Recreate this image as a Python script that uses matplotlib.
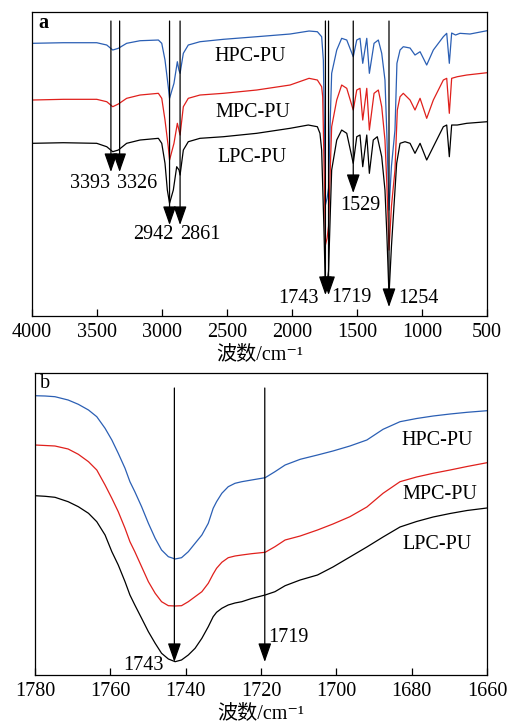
import numpy as np
import matplotlib
matplotlib.use("Agg")
import matplotlib.pyplot as plt

plt.rcParams['font.family'] = ['Liberation Serif', 'Noto Sans CJK SC', 'DejaVu Serif']
plt.rcParams['font.size'] = 14.5

# ---- panel a: full spectra (wavenumber, offset transmittance in arbitrary units)
wn_hpc = [4000, 3759, 3502, 3425, 3379, 3336, 3272, 3169, 3028, 3002, 2977, 2952, 2942,
          2908, 2882, 2870, 2861, 2836, 2798, 2708, 2528, 2272, 2015, 1869, 1805, 1772,
          1759, 1750, 1743, 1730, 1719, 1705, 1695, 1656, 1618, 1579, 1529, 1502, 1477,
          1456, 1425, 1405, 1369, 1336, 1310, 1285, 1270, 1254, 1235, 1208, 1193, 1169,
          1144, 1092, 1054, 1015, 964, 913, 836, 810, 790, 772, 742, 708, 631, 500]
t_hpc = [272.7, 273.3, 273.3, 271, 266, 267.7, 272.7, 275.3, 276, 272.7, 256, 229.3, 217.7,
         232.7, 254.3, 246, 242.7, 262.7, 271, 274.3, 276.7, 279.3, 282, 285, 284.3, 279.3,
         256, 180, 111, 118, 128, 200, 242.7, 266, 277.7, 276, 259.3, 276, 277.7,
         252.7, 277.7, 242.7, 272.7, 276, 262.7, 236, 180, 106, 150, 186, 252.7, 266,
         269.3, 268, 261, 264.3, 251, 266, 279.3, 282.7, 252.7, 283, 281, 282.7, 282, 285.3]

wn_mpc = [4000, 3759, 3502, 3425, 3379, 3336, 3272, 3169, 3028, 3002, 2977, 2952, 2942,
          2908, 2882, 2870, 2861, 2836, 2798, 2708, 2528, 2272, 2015, 1869, 1805, 1772,
          1764, 1752, 1743, 1730, 1719, 1705, 1695, 1656, 1618, 1579, 1529, 1502, 1477,
          1456, 1425, 1405, 1369, 1336, 1310, 1285, 1270, 1254, 1235, 1208, 1190, 1169,
          1144, 1092, 1054, 1015, 964, 913, 836, 810, 790, 772, 729, 656, 500]
t_mpc = [216, 216.7, 216.7, 214.3, 209.3, 212, 217.7, 221, 222.7, 217.7, 196, 169.3, 156,
         172.7, 192.7, 186, 181, 209.3, 217.7, 221, 222.7, 226, 231, 237.7, 236, 229.3,
         219.3, 140, 71, 78, 90, 150, 189.3, 216, 231, 227.7, 206, 226, 227.7,
         196, 227.7, 186, 222.7, 226, 209.3, 176, 130, 66, 110, 146, 206, 219.3,
         222.7, 216, 206, 217.7, 197.7, 216, 236, 237.7, 202.7, 237.7, 239.3, 241, 243.3]

wn_lpc = [4000, 3759, 3502, 3425, 3379, 3336, 3272, 3169, 3028, 3002, 2977, 2959, 2942,
          2913, 2887, 2869, 2861, 2836, 2798, 2708, 2528, 2272, 2015, 1875, 1805, 1785,
          1772, 1755, 1743, 1730, 1719, 1705, 1695, 1656, 1618, 1579, 1529, 1502, 1477,
          1456, 1425, 1405, 1375, 1344, 1310, 1285, 1270, 1254, 1235, 1195, 1169, 1131,
          1092, 1054, 1015, 964, 913, 836, 810, 790, 772, 729, 656, 500]
t_lpc = [172.7, 173.3, 172.7, 169.3, 164.3, 166, 172.7, 176, 177.7, 172.7, 152.7, 126, 112.7,
         126, 149.3, 146, 141, 166, 174.3, 177.7, 179.3, 182.7, 187.7, 191, 189.3, 182.7,
         166, 90, 26, 33, 45, 105, 146, 176, 186, 182.7, 152.7, 179.3, 181,
         149.3, 181, 142.7, 176, 179.3, 159.3, 126, 80, 21, 70, 152.7, 172.7, 174.3,
         172.7, 162.7, 172.7, 156, 169.3, 189.3, 191, 159.3, 191, 191, 192.7, 194.3]

# peak marks in panel a: wavenumber, arrow tip level, label position
peaks_a = [3393, 3326, 2942, 2861, 1743, 1719, 1529, 1254]
tips_a = [144, 144, 91, 91, 21, 21, 123, 9]
labx_a = [3556, 3188, 3069, 2708, 1954, 1541, 1477, 1031]
laby_a = [133, 133, 82, 82, 18, 19, 111, 18]

# ---- panel b: carbonyl region
wn_b = [1780, 1777.3, 1774.7, 1771.2, 1768.5, 1765.8, 1763.6, 1761.4, 1759.6, 1757.9,
        1756.1, 1754.8, 1753.5, 1751.7, 1749.9, 1748.1, 1746.4, 1744.6, 1742.8, 1741.1,
        1739.3, 1737.5, 1735.7, 1734.0, 1732.7, 1731.8, 1730.4, 1728.7, 1726.9, 1725.1,
        1722.5, 1718.9, 1716.3, 1713.6, 1709.6, 1705.0, 1700.9, 1696.4, 1691.9, 1687.6,
        1683.1, 1678.7, 1674.3, 1669.8, 1665.3, 1660]
b_hpc = [279.3, 279, 278.3, 275, 270.7, 265, 258.3, 246.7, 235, 221.7,
         206.7, 193.3, 183.3, 168.3, 151.7, 136.7, 125, 118.3, 116, 117.3,
         123.3, 131.7, 140, 151.7, 166.7, 173.3, 181.7, 188.3, 191.7, 193.3,
         195, 197.3, 203.3, 210, 215.7, 220, 224, 229, 235, 245.7,
         253.3, 256.5, 259, 261, 262.7, 264.3]
b_mpc = [230, 229.5, 229, 226, 220.7, 213.3, 205, 190, 176.7, 163.3,
         146.7, 133.3, 123.3, 108.3, 93.3, 81.7, 73.3, 69.3, 69, 69.3,
         73.3, 78.3, 83.3, 91.7, 101, 106.7, 112.7, 117.3, 119, 120,
         121.3, 122.7, 128.3, 135, 139, 145, 151, 158.3, 168, 181.7,
         193.3, 198, 201.7, 205, 208.5, 212.3]
b_lpc = [179.3, 178.7, 177.7, 173.3, 168.3, 161.7, 153.3, 140, 123.3, 110,
         93.3, 80, 70, 56.7, 43.3, 31.7, 21.7, 16, 13.3, 15,
         20, 26.7, 36.7, 48.3, 58.3, 62.7, 66.7, 70, 72, 73.3,
         76.5, 80, 83.3, 89.3, 95, 100, 108, 118, 128, 138,
         148, 153.5, 158, 161.5, 164.5, 167]

peaks_b = [1743, 1719]
tips_b = [13, 13]
labx_b = [1751.2, 1712.6]
laby_b = [9, 37]

names = ['HPC-PU', 'MPC-PU', 'LPC-PU']
colors = ['#2b5fb4', '#e0201c', '#000000']
name_x_a = [2323, 2304, 2310]
name_y_a = [260, 204, 159]
name_x_b = [1673.3, 1672.5, 1673.3]
name_y_b = [235, 180, 130]

fig = plt.figure(figsize=(5.08, 7.24), dpi=100)
ax1 = fig.add_axes([0.063, 0.5635, 0.8957, 0.4199])
ax2 = fig.add_axes([0.0689, 0.0677, 0.8898, 0.4171])

arrow = dict(arrowstyle='-|>,head_width=0.28,head_length=0.8', color='k', lw=0.9,
             shrinkA=0, shrinkB=0)

for wn, t, c in zip([wn_hpc, wn_mpc, wn_lpc], [t_hpc, t_mpc, t_lpc], colors):
    ax1.plot(wn, t, color=c, lw=0.9)
for name, x, y in zip(names, name_x_a, name_y_a):
    ax1.text(x, y, name, ha='center', va='center')
for p, tip, lx, ly in zip(peaks_a, tips_a, labx_a, laby_a):
    ax1.annotate('', xy=(p, tip), xytext=(p, 295), arrowprops=arrow)
    ax1.text(lx, ly, str(p), ha='center', va='center')
ax1.text(0.013, 0.965, 'a', transform=ax1.transAxes, fontweight='bold', va='center')
ax1.set_xlim(4000, 500)
ax1.set_ylim(0, 304)
ax1.set_xticks(np.arange(4000, 499, -500))

for b, c in zip([b_hpc, b_mpc, b_lpc], colors):
    ax2.plot(wn_b, b, color=c, lw=0.9)
for name, x, y in zip(names, name_x_b, name_y_b):
    ax2.text(x, y, name, ha='center', va='center')
for p, tip, lx, ly in zip(peaks_b, tips_b, labx_b, laby_b):
    ax2.annotate('', xy=(p, tip), xytext=(p, 287), arrowprops=arrow)
    ax2.text(lx, ly, str(p), ha='center', va='center')
ax2.text(0.012, 0.965, 'b', transform=ax2.transAxes, va='center')
ax2.set_xlim(1780, 1660)
ax2.set_ylim(0, 302)
ax2.set_xticks(np.arange(1780, 1659, -20))

for ax in (ax1, ax2):
    ax.set_yticks([])
    ax.tick_params(axis='x', direction='in', length=5, width=0.9, pad=5, labelsize=14.5)
    for s in ax.spines.values():
        s.set_linewidth(0.9)
    ax.set_xlabel('波数/cm⁻¹', fontsize=14.5, labelpad=2)

fig.savefig('out.png', dpi=100)
